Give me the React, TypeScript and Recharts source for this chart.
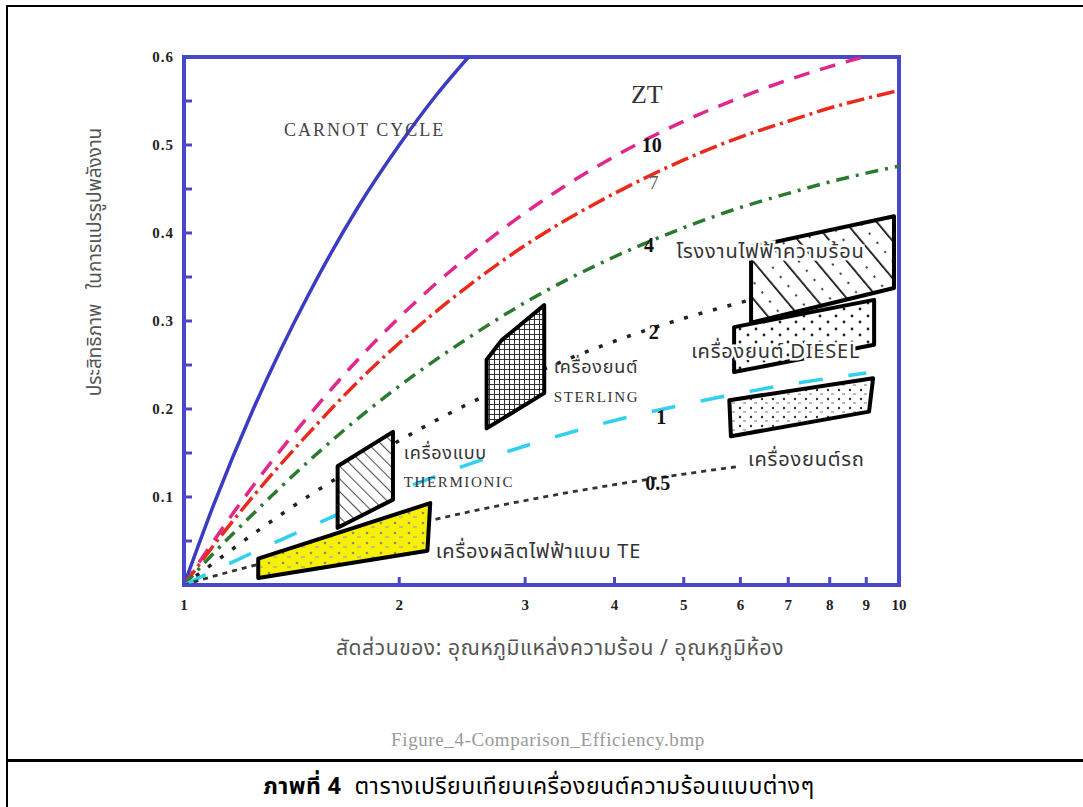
import React from 'react'
import {
  ComposedChart, Line, Scatter, XAxis, YAxis, ReferenceArea,
} from 'recharts'

// ── data ──────────────────────────────────────────────────────────────────
// x: อัตราส่วน Th/Tc (log scale), y: ประสิทธิภาพ

const ratio = [1, 1.1, 1.25, 1.5, 1.75, 2, 2.5, 3, 4, 5, 6, 7, 8, 9, 10]

const carnotRatio = [1, 1.1, 1.25, 1.5, 1.75, 2, 2.25, 2.5]
const carnotEff = [0, 0.091, 0.2, 0.333, 0.429, 0.5, 0.556, 0.6]

const zt10 = [0, 0.05, 0.113, 0.194, 0.256, 0.304, 0.374, 0.423, 0.487, 0.527, 0.554, 0.574, 0.589, 0.601, 0.61]
const zt7 = [0, 0.045, 0.101, 0.174, 0.231, 0.275, 0.34, 0.386, 0.445, 0.483, 0.509, 0.527, 0.542, 0.553, 0.562]
const zt4 = [0, 0.036, 0.081, 0.142, 0.189, 0.226, 0.281, 0.321, 0.373, 0.406, 0.429, 0.445, 0.458, 0.468, 0.476]
const zt2 = [0, 0.025, 0.058, 0.102, 0.136, 0.164, 0.206, 0.236, 0.277, 0.303, 0.321, 0.335, 0.345, 0.353, 0.36]
const zt1 = [0, 0.016, 0.037, 0.066, 0.09, 0.108, 0.137, 0.158, 0.187, 0.205, 0.218, 0.228, 0.235, 0.241]
const zt05 = [0, 0.01, 0.022, 0.04, 0.054, 0.065, 0.083, 0.096, 0.114, 0.126, 0.135]

// engine regions (polygon corners)
const teRegion = [
  { r: 1.27, e: 0.008 }, { r: 1.27, e: 0.03 }, { r: 2.21, e: 0.093 }, { r: 2.19, e: 0.039 },
]
const thermionicRegion = [
  { r: 1.64, e: 0.065 }, { r: 1.64, e: 0.135 }, { r: 1.96, e: 0.174 }, { r: 1.96, e: 0.097 },
]
const sterlingRegion = [
  { r: 2.65, e: 0.178 }, { r: 2.65, e: 0.256 }, { r: 2.78, e: 0.278 }, { r: 3.19, e: 0.318 }, { r: 3.19, e: 0.218 },
]
const powerPlantRegion = [
  { r: 6.21, e: 0.298 }, { r: 6.21, e: 0.384 }, { r: 9.84, e: 0.419 }, { r: 9.84, e: 0.3375 },
]
const dieselRegion = [
  { r: 5.88, e: 0.242 }, { r: 5.88, e: 0.293 }, { r: 9.23, e: 0.324 }, { r: 9.23, e: 0.273 },
]
const carRegion = [
  { r: 5.79, e: 0.21 }, { r: 9.2, e: 0.235 }, { r: 9.08, e: 0.197 }, { r: 5.82, e: 0.169 },
]

const curveLabels = [
  { r: 1.38, e: 0.517, text: 'CARNOT CYCLE', kind: 'carnot' },
  { r: 4.44, e: 0.557, text: 'ZT', kind: 'zt' },
  { r: 4.51, e: 0.5, text: '10', kind: 'num' },
  { r: 4.54, e: 0.457, text: '7', kind: 'numLight' },
  { r: 4.47, e: 0.386, text: '4', kind: 'num' },
  { r: 4.54, e: 0.2875, text: '2', kind: 'num' },
  { r: 4.65, e: 0.191, text: '1', kind: 'num' },
  { r: 4.6, e: 0.116, text: '0.5', kind: 'num' },
]

const regionLabels = [
  { r: 3.29, e: 0.247, text: 'เครื่องยนต์', kind: 'thaiSmall' },
  { r: 3.29, e: 0.214, text: 'STERLING', kind: 'latin' },
  { r: 2.03, e: 0.149, text: 'เครื่องแบบ', kind: 'thaiSmall' },
  { r: 2.03, e: 0.117, text: 'THERMIONIC', kind: 'latin' },
  { r: 2.25, e: 0.0375, text: 'เครื่องผลิตไฟฟ้าแบบ TE', kind: 'thai' },
  { r: 4.88, e: 0.378, text: 'โรงงานไฟฟ้าความร้อน', kind: 'thaiHalo' },
  { r: 5.12, e: 0.265, text: 'เครื่องยนต์ DIESEL', kind: 'thaiHalo' },
  { r: 6.15, e: 0.142, text: 'เครื่องยนต์รถ', kind: 'thai' },
]

const xTicks = [1, 2, 3, 4, 5, 6, 7, 8, 9, 10]
const yTicks = [0, 0.05, 0.1, 0.15, 0.2, 0.25, 0.3, 0.35, 0.4, 0.45, 0.5, 0.55, 0.6]
const yLabelled = [0.1, 0.2, 0.3, 0.4, 0.5, 0.6]

// ── styles ─────────────────────────────────────────────────────────────────

const SERIF = '"Liberation Serif", "Times New Roman", serif'
const THAI = '"Noto Sans Thai", "Noto Serif Thai", Garuda, Loma, "Tlwg Typo", "DejaVu Sans", sans-serif'
const AXIS_BLUE = '#4848c8'

const toPoints = (xs: number[], ys: number[]) => ys.map((e, i) => ({ r: xs[i], e }))

const labelStyles: Record<string, React.SVGProps<SVGTextElement>> = {
  carnot: { fontFamily: SERIF, fontSize: 18, fill: '#444', letterSpacing: 2, textAnchor: 'start' },
  zt: { fontFamily: SERIF, fontSize: 26, fill: '#333', textAnchor: 'middle' },
  num: { fontFamily: SERIF, fontSize: 20, fontWeight: 700, fill: '#111', textAnchor: 'middle' },
  numLight: { fontFamily: SERIF, fontSize: 19, fill: '#555', textAnchor: 'middle' },
  thai: { fontFamily: THAI, fontSize: 20, fill: '#333', letterSpacing: 0.8, textAnchor: 'start' },
  thaiSmall: { fontFamily: THAI, fontSize: 18, fill: '#333', letterSpacing: 0.8, textAnchor: 'start' },
  thaiHalo: {
    fontFamily: THAI, fontSize: 20, fill: '#333', letterSpacing: 0.8, textAnchor: 'start',
    stroke: '#fff', strokeWidth: 5, paintOrder: 'stroke',
  },
  latin: { fontFamily: SERIF, fontSize: 15, fill: '#333', letterSpacing: 1.6, textAnchor: 'start' },
}

// eslint-disable-next-line @typescript-eslint/no-explicit-any
const LabelShape = (props: any) => {
  const { cx, cy, payload } = props
  return (
    <text x={cx} y={cy} dominantBaseline="central" {...labelStyles[payload.kind]}>
      {payload.text}
    </text>
  )
}

const NoDot = () => <g />

// polygon drawn from the scatter's scaled points
const polygon = (fill: string) => {
  // eslint-disable-next-line @typescript-eslint/no-explicit-any
  return (p: any) => {
    const pts = (p.points || []) as { x: number; y: number }[]
    if (!pts.length) return <g />
    const d = pts.map((pt, i) => `${i ? 'L' : 'M'}${pt.x},${pt.y}`).join(' ') + ' Z'
    return <path d={d} fill={fill} stroke="#000" strokeWidth={4} strokeLinejoin="round" />
  }
}

// eslint-disable-next-line @typescript-eslint/no-explicit-any
const YTick = (props: any) => {
  const { x, y, payload } = props
  if (!yLabelled.includes(payload.value)) return <g />
  return (
    <text x={x} y={y} textAnchor="end" dominantBaseline="central"
      fontFamily={SERIF} fontSize={15} fontWeight={700} fill="#222" letterSpacing={1}>
      {payload.value.toFixed(1)}
    </text>
  )
}

function Patterns() {
  return (
    <svg width={0} height={0} style={{ position: 'absolute' }}>
      <defs>
        <pattern id="pGrid" width={5} height={5} patternUnits="userSpaceOnUse">
          <rect width={5} height={5} fill="#fff" />
          <path d="M4.5 0V5M0 4.5H5" stroke="#333" strokeWidth={1} />
        </pattern>
        <pattern id="pHatchThin" width={9} height={9} patternUnits="userSpaceOnUse" patternTransform="rotate(-45)">
          <rect width={9} height={9} fill="#fff" />
          <line x1={0} y1={0} x2={0} y2={9} stroke="#555" strokeWidth={2.2} />
        </pattern>
        <pattern id="pHatchBold" width={24} height={24} patternUnits="userSpaceOnUse" patternTransform="rotate(-40)">
          <rect width={24} height={24} fill="#fff" />
          <line x1={0} y1={0} x2={0} y2={24} stroke="#111" strokeWidth={3.5} />
          <circle cx={12} cy={6} r={1.2} fill="#444" />
          <circle cx={12} cy={18} r={1.2} fill="#444" />
        </pattern>
        <pattern id="pDots" width={16} height={13} patternUnits="userSpaceOnUse">
          <rect width={16} height={13} fill="#fff" />
          <circle cx={4} cy={4} r={1.4} fill="#222" />
          <circle cx={12} cy={10} r={1.4} fill="#222" />
        </pattern>
        <pattern id="pDotsDense" width={11} height={9} patternUnits="userSpaceOnUse">
          <rect width={11} height={9} fill="#fff" />
          <circle cx={3} cy={3} r={1.2} fill="#333" />
          <line x1={6} y1={7} x2={9} y2={7} stroke="#777" strokeWidth={1} />
        </pattern>
        <pattern id="pYellow" width={14} height={10} patternUnits="userSpaceOnUse">
          <rect width={14} height={10} fill="#f7f000" />
          <circle cx={3} cy={3} r={1.3} fill="#888" />
          <line x1={7} y1={7} x2={11} y2={7} stroke="#aaa" strokeWidth={1.3} />
        </pattern>
      </defs>
    </svg>
  )
}

export default function App() {
  const regions = [
    { id: 'te', data: teRegion, fill: 'url(#pYellow)' },
    { id: 'thermionic', data: thermionicRegion, fill: 'url(#pHatchThin)' },
    { id: 'sterling', data: sterlingRegion, fill: 'url(#pGrid)' },
    { id: 'power', data: powerPlantRegion, fill: 'url(#pHatchBold)' },
    { id: 'diesel', data: dieselRegion, fill: 'url(#pDots)' },
    { id: 'car', data: carRegion, fill: 'url(#pDotsDense)' },
  ]

  return (
    <div style={{ position: 'absolute', left: 0, top: 0, width: 1083, height: 807, background: '#fff', overflow: 'hidden', fontFamily: SERIF }}>
      <Patterns />
      {/* document frame */}
      <div style={{ position: 'absolute', left: 6, top: 5, width: 1200, height: 900, border: '2px solid #000' }} />
      <div style={{ position: 'absolute', left: 6, top: 759, width: 1200, height: 3, background: '#000' }} />

      <div style={{ position: 'absolute', left: 0, top: 0 }}>
        <ComposedChart
          width={1083}
          height={807}
          margin={{ top: 57, right: 184, bottom: 192, left: 134 }}
        >
          <XAxis
            dataKey="r" type="number" scale="log" domain={[1, 10]} ticks={xTicks}
            allowDataOverflow axisLine={false} height={30}
            tickSize={-8} tickMargin={22}
            tickLine={{ stroke: AXIS_BLUE, strokeWidth: 3 }}
            tick={{ fontFamily: SERIF, fontSize: 15, fontWeight: 700, fill: '#222' }}
          />
          <XAxis
            xAxisId="top" orientation="top" dataKey="r" type="number" scale="log" domain={[1, 10]}
            ticks={xTicks} allowDataOverflow axisLine={false} height={0}
            tickSize={-7} tick={false} tickLine={{ stroke: AXIS_BLUE, strokeWidth: 3 }}
          />
          <YAxis
            type="number" domain={[0, 0.6]} ticks={yTicks} allowDataOverflow
            axisLine={false} width={50} tickSize={-8} tickMargin={18}
            tickLine={{ stroke: AXIS_BLUE, strokeWidth: 3 }}
            tick={<YTick />}
          />
          <YAxis
            yAxisId="right" orientation="right" type="number" domain={[0, 0.6]} ticks={yTicks}
            allowDataOverflow axisLine={false} width={0} tickSize={-7} tick={false}
            tickLine={{ stroke: AXIS_BLUE, strokeWidth: 3 }}
          />

          <Line data={toPoints(carnotRatio, carnotEff)} dataKey="e" type="monotone" stroke="#3b3bc4" strokeWidth={3.5} dot={false} activeDot={false} isAnimationActive={false} />
          <Line data={toPoints(ratio, zt10)} dataKey="e" type="monotone" stroke="#e0288c" strokeWidth={3.5} strokeDasharray="16 11" dot={false} activeDot={false} isAnimationActive={false} />
          <Line data={toPoints(ratio, zt7)} dataKey="e" type="monotone" stroke="#ea2a1c" strokeWidth={3.5} strokeDasharray="18 5 3 5" dot={false} activeDot={false} isAnimationActive={false} />
          <Line data={toPoints(ratio, zt4)} dataKey="e" type="monotone" stroke="#2a7a30" strokeWidth={3.5} strokeDasharray="13 7 3 7" dot={false} activeDot={false} isAnimationActive={false} />
          <Line data={toPoints(ratio, zt2)} dataKey="e" type="monotone" stroke="#222" strokeWidth={3.5} strokeDasharray="4 11" dot={false} activeDot={false} isAnimationActive={false} />
          <Line data={toPoints(ratio, zt1)} dataKey="e" type="monotone" stroke="#30d0f0" strokeWidth={3.5} strokeDasharray="24 26" dot={false} activeDot={false} isAnimationActive={false} />
          <Line data={toPoints(ratio, zt05)} dataKey="e" type="monotone" stroke="#333" strokeWidth={2.8} strokeDasharray="5 5" dot={false} activeDot={false} isAnimationActive={false} />

          {regions.map(reg => (
            <Scatter
              key={reg.id} data={reg.data} dataKey="e" shape={<NoDot />}
              line={polygon(reg.fill)} lineType="joint" isAnimationActive={false}
            />
          ))}

          <Scatter data={curveLabels} dataKey="e" shape={LabelShape} isAnimationActive={false} />
          <Scatter data={regionLabels} dataKey="e" shape={LabelShape} isAnimationActive={false} />

          <ReferenceArea x1={1} x2={10} y1={0} y2={0.6} fill="none" stroke={AXIS_BLUE} strokeWidth={4} ifOverflow="visible" />
        </ComposedChart>
      </div>

      {/* axis titles and captions */}
      <div style={{
        position: 'absolute', left: 95, top: 262, transform: 'translate(-50%, -50%) rotate(-90deg)',
        whiteSpace: 'nowrap', fontFamily: THAI, fontSize: 19, color: '#555',
      }}>
        ประสิทธิภาพ&nbsp;&nbsp;&nbsp;ในการแปรรูปพลังงาน
      </div>
      <div style={{
        position: 'absolute', left: 560, top: 648, transform: 'translate(-50%, -50%)',
        whiteSpace: 'nowrap', fontFamily: THAI, fontSize: 21, letterSpacing: 0.6, color: '#555',
      }}>
        สัดส่วนของ: อุณหภูมิแหล่งความร้อน / อุณหภูมิห้อง
      </div>
      <div style={{
        position: 'absolute', left: 548, top: 740, transform: 'translate(-50%, -50%)',
        whiteSpace: 'nowrap', fontFamily: SERIF, fontSize: 19, letterSpacing: 0.6, color: '#999',
      }}>
        Figure_4-Comparison_Efficiency.bmp
      </div>
      <div style={{
        position: 'absolute', left: 539, top: 787, transform: 'translate(-50%, -50%)',
        whiteSpace: 'nowrap', fontFamily: THAI, fontSize: 23, letterSpacing: 0.5, color: '#000',
      }}>
        <b>ภาพที่ 4</b>&nbsp;&nbsp;ตารางเปรียบเทียบเครื่องยนต์ความร้อนแบบต่างๆ
      </div>
    </div>
  )
}
